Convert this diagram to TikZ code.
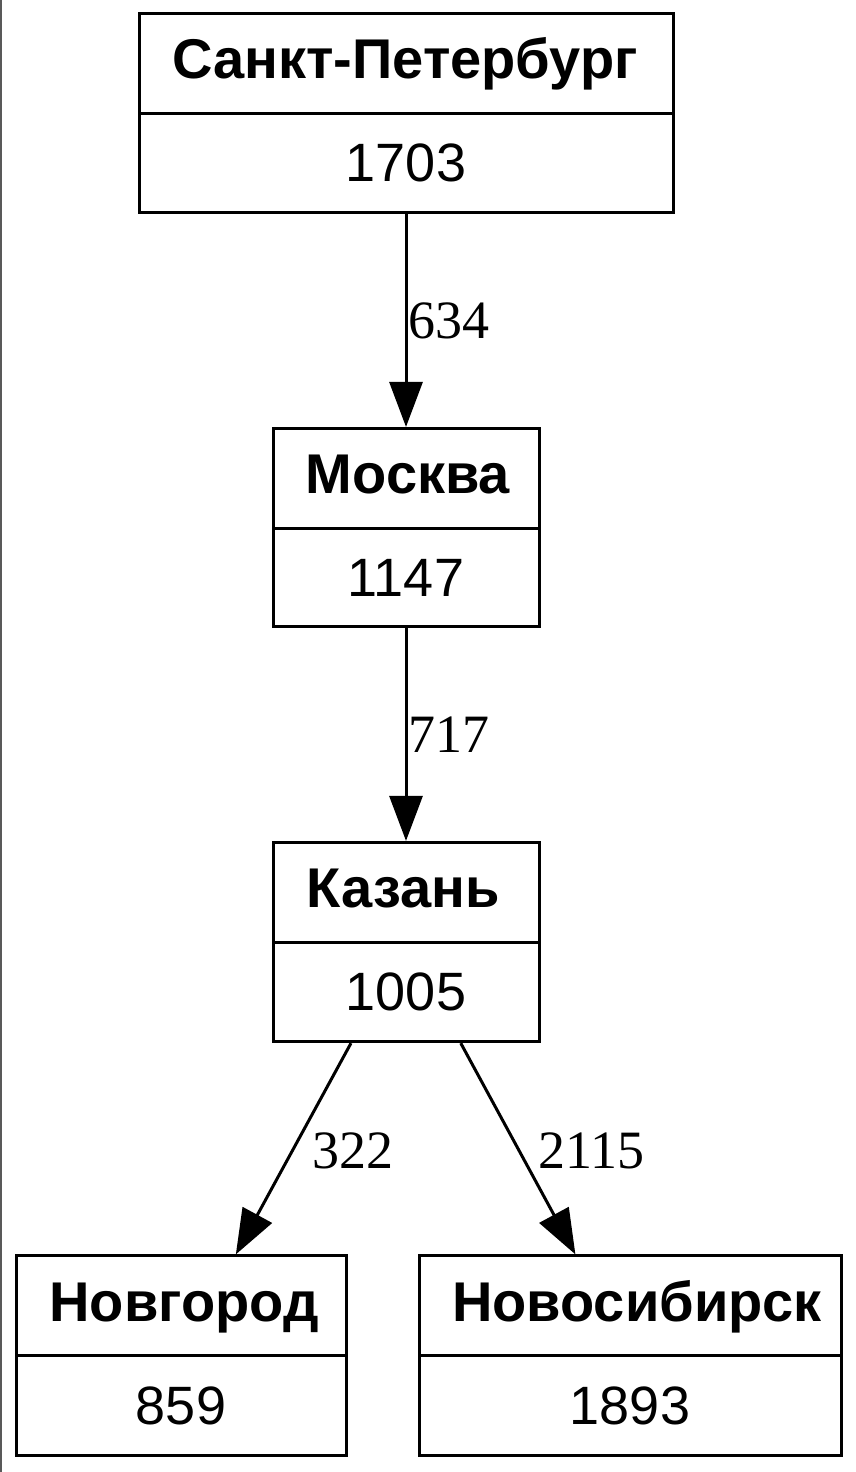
\documentclass[tikz,border=0pt]{standalone}
\usepackage{fontspec}
\setmainfont{Liberation Sans}
\newfontfamily\lblfont{Liberation Serif}
\usetikzlibrary{shapes.multipart,arrows.meta}
\newcommand{\ttl}[2][0pt]{\raisebox{2pt}{\hspace*{#1}\fontsize{28pt}{32pt}\selectfont\bfseries #2\hspace*{-#1}}}
\begin{document}
\begin{tikzpicture}[x=0.5pt,y=-0.5pt,
  city/.style={draw, line width=1.5pt, rectangle split, rectangle split parts=2,
    font=\fontsize{27pt}{32pt}\selectfont, text height=19.5pt, text depth=0pt,
    inner ysep=14.5pt, inner xsep=0pt},
  link/.style={draw, line width=1.5pt, -{Triangle[length=22.5pt,width=16.5pt]}},
  lbl/.style={font=\lblfont\fontsize{27pt}{32pt}\selectfont, inner sep=0pt, anchor=west}]
\useasboundingbox (0,0) rectangle (856,1472);
\draw[line width=1pt, black!65] (1,0) -- (1,1472);
\node[city, minimum width=267pt] (spb) at (406,113) {\ttl[-0.5pt]{Санкт-Петербург}\nodepart{two}1703};
\node[city, minimum width=133pt] (msk) at (406,527.5) {\ttl[1pt]{Москва}\nodepart{two}1147};
\node[city, minimum width=133pt] (kzn) at (406,942) {\ttl[-1.5pt]{Казань}\nodepart{two}1005};
\node[city, minimum width=165pt] (nvg) at (181,1355.5) {\ttl[1.5pt]{Новгород}\nodepart{two}859};
\node[city, minimum width=211pt] (nsk) at (630,1355.5) {\ttl[3.5pt]{Новосибирск}\nodepart{two}1893};
\draw[link] (spb) -- node[lbl, pos=0.5, xshift=0.5pt] {634} (msk);
\draw[link] (msk) -- node[lbl, pos=0.5, xshift=0.5pt] {717} (kzn);
\draw[link] (kzn) -- node[lbl, pos=0.5, xshift=9pt, yshift=-1pt] {322} (nvg);
\draw[link] (kzn) -- node[lbl, pos=0.5, xshift=9.5pt, yshift=-1pt] {2115} (nsk);
\end{tikzpicture}
\end{document}
